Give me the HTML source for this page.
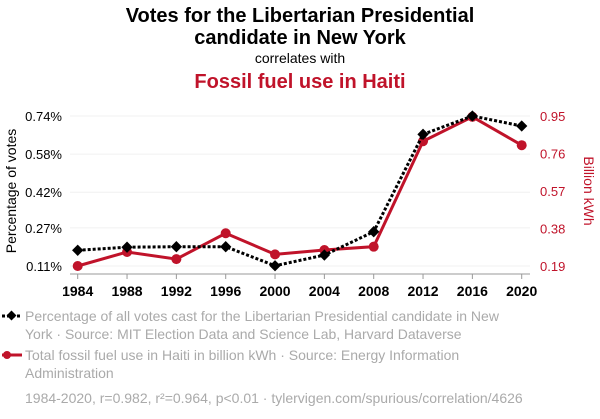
<!DOCTYPE html>
<html><head><meta charset="utf-8"><style>
body{margin:0;width:600px;height:414px;background:#fff;font-family:"Liberation Sans",Arial,sans-serif;overflow:hidden}
</style></head><body>
<svg width="600" height="414" xmlns="http://www.w3.org/2000/svg">
<text x="300" y="22" text-anchor="middle" font-size="20" font-weight="bold" fill="#000">Votes for the Libertarian Presidential</text>
<text x="300" y="44" text-anchor="middle" font-size="20" font-weight="bold" fill="#000">candidate in New York</text>
<text x="300" y="63" text-anchor="middle" font-size="14" fill="#000">correlates with</text>
<text x="300" y="88" text-anchor="middle" font-size="20" font-weight="bold" fill="#c0132a">Fossil fuel use in Haiti</text>
<g id="grid"></g>
<line x1="70" y1="274" x2="530" y2="274" stroke="#999"/>
<g id="xt"></g><g id="lt"></g><g id="rt"></g>
<text transform="translate(16,191) rotate(-90)" text-anchor="middle" font-size="14" fill="#000">Percentage of votes</text>
<text transform="translate(584,191) rotate(90)" text-anchor="middle" font-size="14" fill="#c0132a">Billion kWh</text>
<g id="series"></g>
<g>
<line x1="2" y1="316" x2="22" y2="316" stroke="#000" stroke-width="3" stroke-dasharray="3,2"/>
<rect x="8" y="312" width="7" height="7" transform="rotate(45 11.5 315.5)" fill="#000"/>
<text x="25" y="321" font-size="14" fill="#aaa">Percentage of all votes cast for the Libertarian Presidential candidate in New</text>
<text x="25" y="339" font-size="14" fill="#aaa">York · Source: MIT Election Data and Science Lab, Harvard Dataverse</text>
<line x1="2" y1="355" x2="22" y2="355" stroke="#c0132a" stroke-width="3"/>
<circle cx="7" cy="355" r="4" fill="#c0132a"/>
<text x="25" y="360" font-size="14" fill="#aaa">Total fossil fuel use in Haiti in billion kWh · Source: Energy Information</text>
<text x="25" y="378" font-size="14" fill="#aaa">Administration</text>
<text x="25" y="403" font-size="14" fill="#aaa">1984-2020, r=0.982, r²=0.964, p&lt;0.01 · tylervigen.com/spurious/correlation/4626</text>
</g>
</svg>
<script>
const years=[1984,1988,1992,1996,2000,2004,2008,2012,2016,2020];
const votes=[0.176,0.189,0.191,0.191,0.111,0.156,0.254,0.663,0.74,0.698];
const fossil=[0.19,0.261,0.225,0.356,0.249,0.271,0.288,0.822,0.946,0.802];
const leftTicks=[0.74,0.58,0.42,0.27,0.11];
const leftLabels=["0.74%","0.58%","0.42%","0.27%","0.11%"];
const rightTicks=[0.95,0.76,0.57,0.38,0.19];
const NS="http://www.w3.org/2000/svg";
const x=y=>77.7+(y-1984)*(444/36);
const yl=v=>266-(v-0.11)/(0.74-0.11)*150;
const yr=v=>266-(v-0.19)/(0.95-0.19)*150;
function mk(tag,attrs,parent,txt){const e=document.createElementNS(NS,tag);for(const k in attrs)e.setAttribute(k,attrs[k]);if(txt!=null)e.textContent=txt;document.getElementById(parent).appendChild(e);return e;}
leftTicks.forEach((t,i)=>{
 const g=mk('line',{x1:70,x2:530,y1:yl(t),y2:yl(t),stroke:'#f0f0f0'},'grid');
 
 
 const l=mk('text',{x:62,y:yl(t)+5,'text-anchor':'end','font-size':13,fill:'#000'},'lt',leftLabels[i]);
 
 
});
rightTicks.forEach(t=>{
 const l=mk('text',{x:540,y:yr(t)+5,'font-size':13,fill:'#c0132a'},'rt',t.toFixed(2));
 
 
});
years.forEach(yv=>{
 mk('line',{x1:x(yv),x2:x(yv),y1:274,y2:279,stroke:'#999'},'xt');
 const l=mk('text',{x:x(yv),y:296,'text-anchor':'middle','font-size':14,'font-weight':'bold',fill:'#000'},'xt',String(yv));
 
 
});
const rp=mk('polyline',{points:years.map((yv,i)=>x(yv)+','+yr(fossil[i])).join(' '),fill:'none',stroke:'#c0132a','stroke-width':3},'series');


years.forEach((yv,i)=>{
 const c=mk('circle',{cx:x(yv),cy:yr(fossil[i]),r:5,fill:'#c0132a'},'series');
 
 
});
const bp=mk('polyline',{points:years.map((yv,i)=>x(yv)+','+yl(votes[i])).join(' '),fill:'none',stroke:'#000','stroke-width':3,'stroke-dasharray':'3,2'},'series');


years.forEach((yv,i)=>{
 const cx=x(yv),cy=yl(votes[i]);
 const d=mk('rect',{x:cx-4,y:cy-4,width:8,height:8,fill:'#000',transform:`rotate(45 ${cx} ${cy})`},'series');
 
 
});
</script>
</body></html>
